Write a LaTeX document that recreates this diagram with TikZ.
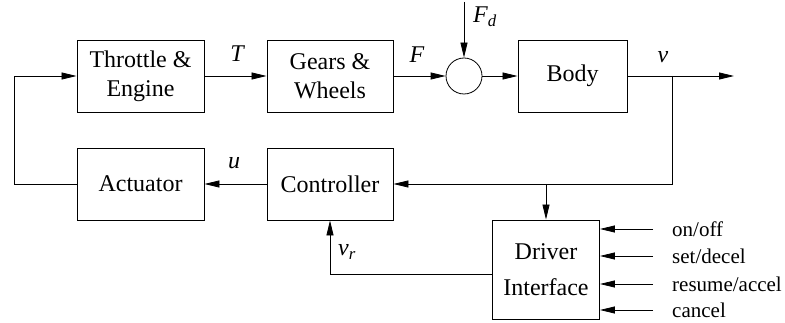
\documentclass[tikz,border=0pt]{standalone}
\usepackage{fontspec}
\setmainfont{Liberation Serif}
\usetikzlibrary{arrows.meta,calc}
\tikzset{
  blk/.style={draw,line width=0.9pt,minimum width=#1,minimum height=72pt,inner sep=0pt,align=center,font=\fontsize{24}{29}\selectfont},
  blk/.default=127pt,
  sig/.style={line width=0.8pt,-{Triangle[length=15pt,width=7pt]}},
  lab/.style={font=\fontsize{24}{28}\selectfont\itshape,inner sep=0pt},
  inlab/.style={font=\fontsize{21}{25}\selectfont,inner sep=0pt,anchor=west}
}
\begin{document}
\begin{tikzpicture}[x=1pt,y=-1pt]
\useasboundingbox (0,0) rectangle (785,323);
\node[blk] (thr) at (140.5,76) {Throttle \&\\Engine};
\node[blk=126pt] (gear) at (330,76) {Gears \&\\Wheels};
\node[draw,circle,line width=0.8pt,minimum size=36pt,inner sep=0pt] (sum) at (464,76) {};
\node[blk=109pt] (body) at (572.5,76) {Body};
\node[blk] (act) at (140.5,184) {Actuator};
\node[blk=126pt] (ctrl) at (330,184) {Controller};
\node[blk=107pt,minimum height=99pt,font=\fontsize{24}{36}\selectfont] (drv) at (546,269.5) {Driver\\Interface};

\coordinate (out) at (734,76);
\coordinate (vb) at (672,76);
\coordinate (vc) at (672,184);
\coordinate (db) at (drv.north |- vc);
\coordinate (fd) at (464,2);
\coordinate (fbl) at (14,184);
\coordinate (fbt) at (14,76);
\coordinate (vrc) at (330,274);

\draw[sig] (thr) -- (gear);
\draw[sig] (gear) -- (sum);
\draw[sig] (sum) -- (body);
\draw[sig] (body) -- (out);
\draw[sig] (fd) -- (sum.north);
\draw[sig] (vb) -- (vc) -- (ctrl.east);
\draw[sig] (db) -- (drv.north);
\draw[sig] (ctrl) -- (act);
\draw[sig] (act.west) -- (fbl) -- (fbt) -- (thr.west);
\draw[sig] (drv.west |- vrc) -- (vrc) -- (ctrl.south);

\foreach \y/\t/\n in {229/on\slash off/a,256/set\slash decel/b,284/resume\slash accel/c,310/cancel/d}{
  \coordinate (in\n) at (653,\y);
  \draw[sig] (in\n) -- (drv.east |- in\n);
  \node[inlab] (l\n) at (672,\y) {\t};
}

\node[lab] (lT) at (237,54) {T};
\node[lab] (lF) at (417,55) {F};
\node[lab] (lFd) at (485,17) {F\textsubscript{\itshape d}};
\node[lab] (lv) at (663,57) {v};
\node[lab] (lu) at (234,163) {u};
\node[lab] (lvr) at (347,252) {v\textsubscript{\itshape r}};
\end{tikzpicture}
\end{document}
